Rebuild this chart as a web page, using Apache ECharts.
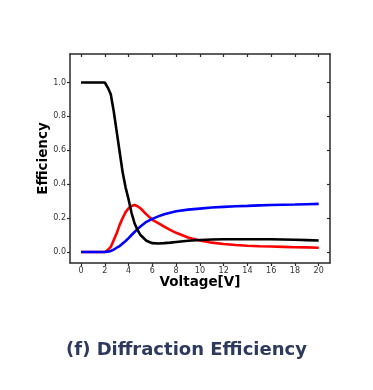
<!DOCTYPE html>
<html>
<head>
<meta charset="utf-8">
<script src="https://cdn.jsdelivr.net/npm/echarts@6/dist/echarts.min.js"></script>
<style>
html,body{margin:0;padding:0;background:#fff;}
#c{width:373px;height:390px;}
</style>
</head>
<body>
<div id="c"></div>
<script>
const voltage = [0,0.5,1,1.5,2,2.25,2.5,2.75,3,3.25,3.5,3.75,4,4.25,4.5,4.75,5,5.5,6,6.5,7,7.5,8,9,10,11,12,13,14,15,16,17,18,19,20];
const black = [1,1,1,1,1,0.97,0.93,0.83,0.71,0.59,0.47,0.38,0.31,0.23,0.17,0.13,0.10,0.066,0.052,0.05,0.052,0.055,0.059,0.066,0.071,0.074,0.075,0.075,0.075,0.075,0.075,0.074,0.072,0.070,0.068];
const red = [0,0,0,0,0,0.012,0.03,0.07,0.11,0.16,0.20,0.235,0.258,0.272,0.277,0.27,0.258,0.222,0.19,0.17,0.15,0.13,0.113,0.085,0.068,0.055,0.047,0.041,0.037,0.034,0.032,0.030,0.028,0.027,0.025];
const blue = [0,0,0,0,0,0.002,0.006,0.014,0.025,0.035,0.05,0.065,0.082,0.1,0.118,0.135,0.15,0.178,0.195,0.21,0.222,0.232,0.24,0.25,0.256,0.262,0.266,0.27,0.272,0.275,0.277,0.279,0.28,0.282,0.284];
const xTicks = [0,2,4,6,8,10,12,14,16,18,20];
const yTicks = [0,0.2,0.4,0.6,0.8,1.0];
const xName = 'Voltage[V]';
const yName = 'Efficiency';
const titleText = '(f) Diffraction Efficiency';

const pairs = arr => voltage.map((v,i)=>[v,arr[i]]);
const axisColor = '#2a2a2a';
const X0 = -0.93, X1 = 20.95, Y0 = -0.065, Y1 = 1.168;

const chart = echarts.init(document.getElementById('c'), null, {renderer:'canvas'});
const lineSeries = (data,color)=>({type:'line',data:pairs(data),showSymbol:false,symbol:'none',
  lineStyle:{color:color,width:2.6},itemStyle:{color:color},animation:false,xAxisIndex:0,yAxisIndex:0});
chart.setOption({
  animation:false,
  title:{text:titleText,left:'center',top:336,textStyle:{fontFamily:'DejaVu Sans',fontWeight:'bold',fontSize:18,color:'#2d3a5e'}},
  grid:{left:70,right:43,top:54,bottom:127,containLabel:false},
  xAxis:[{type:'value',min:X0,max:X1,position:'bottom',
    name:xName,nameLocation:'middle',nameGap:19,nameMoveOverlap:false,
    nameTextStyle:{fontFamily:'DejaVu Sans',fontWeight:'bold',fontSize:13.5,color:'#000',verticalAlign:'middle'},
    axisLine:{show:true,onZero:false,lineStyle:{color:axisColor,width:1.5}},
    axisTick:{show:true,inside:false,length:3,customValues:xTicks,lineStyle:{color:axisColor,width:1.2}},
    axisLabel:{show:true,customValues:xTicks,margin:4,fontFamily:'DejaVu Sans',fontSize:8,color:'#333'},
    splitLine:{show:false}},
   {type:'value',min:X0,max:X1,position:'top',
    axisLine:{show:true,onZero:false,lineStyle:{color:axisColor,width:1.5}},
    axisTick:{show:true,inside:true,length:3,customValues:xTicks,lineStyle:{color:axisColor,width:1.2}},
    axisLabel:{show:false},splitLine:{show:false}}],
  yAxis:[{type:'value',min:Y0,max:Y1,position:'left',
    name:yName,nameLocation:'middle',nameGap:27,nameRotate:90,nameMoveOverlap:false,
    nameTextStyle:{fontFamily:'DejaVu Sans',fontWeight:'bold',fontSize:13.5,color:'#000',verticalAlign:'middle'},
    axisLine:{show:true,onZero:false,lineStyle:{color:axisColor,width:1.5}},
    axisTick:{show:true,inside:false,length:3,customValues:yTicks,lineStyle:{color:axisColor,width:1.2}},
    axisLabel:{show:true,customValues:yTicks,margin:4,fontFamily:'DejaVu Sans',fontSize:8,color:'#333',
      formatter:v=>v.toFixed(1)},
    splitLine:{show:false}},
   {type:'value',min:Y0,max:Y1,position:'right',
    axisLine:{show:true,onZero:false,lineStyle:{color:axisColor,width:1.5}},
    axisTick:{show:true,inside:true,length:3,customValues:yTicks,lineStyle:{color:axisColor,width:1.2}},
    axisLabel:{show:false},splitLine:{show:false}}],
  series:[lineSeries(red,'#ff0000'),lineSeries(blue,'#0000ff'),lineSeries(black,'#000000')]
});
</script>
</body>
</html>
